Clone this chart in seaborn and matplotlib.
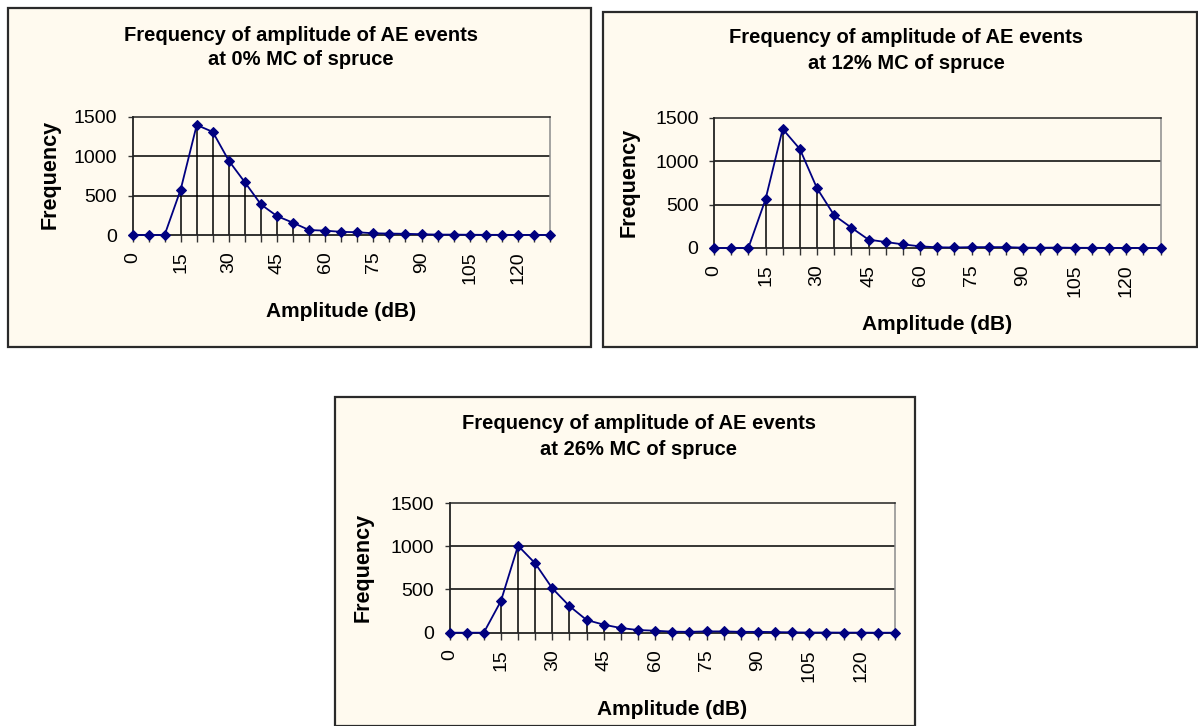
import matplotlib
matplotlib.use("Agg")
import matplotlib.pyplot as plt
from matplotlib.patches import Rectangle
import seaborn as sns

# ---- data ----
amplitude = [0, 5, 10, 15, 20, 25, 30, 35, 40, 45, 50, 55, 60, 65, 70,
             75, 80, 85, 90, 95, 100, 105, 110, 115, 120, 125, 130]
freq_0 = [0, 0, 0, 576, 1395, 1307, 941, 668, 387, 240, 155, 63, 55, 40, 35,
          22, 18, 15, 10, 5, 5, 3, 2, 2, 1, 1, 0]
freq_12 = [0, 0, 0, 560, 1370, 1139, 687, 376, 234, 96, 69, 42, 19, 8, 6,
           10, 10, 10, 4, 3, 5, 2, 2, 1, 1, 0, 0]
freq_26 = [0, 0, 0, 366, 1006, 802, 513, 308, 147, 93, 54, 31, 23, 12, 10,
           15, 15, 10, 10, 7, 4, 2, 2, 1, 1, 0, 0]
xtick_labels = ["0", "15", "30", "45", "60", "75", "90", "105", "120"]
ytick_values = [0, 500, 1000, 1500]
titles = [("Frequency of amplitude of AE events", "at 0% MC of spruce"),
          ("Frequency of amplitude of AE events", "at 12% MC of spruce"),
          ("Frequency of amplitude of AE events", "at 26% MC of spruce")]
xlabel = "Amplitude (dB)"
ylabel = "Frequency"

# ---- style ----
plt.rcParams["font.family"] = ["Liberation Sans", "DejaVu Sans"]
W, H = 1198, 726
CREAM = "#FFFAEF"
NAVY = "#000080"
TICK_FS = 14

fig = plt.figure(figsize=(W / 100, H / 100), dpi=100)
fig.patch.set_facecolor("white")


def fx(x):
    return x / W


def fy(y):
    return 1 - y / H


# panel layouts in pixel coords
panels = [
    dict(box=(8, 8, 591, 347), plot=(132.5, 116.7, 550, 235),
         title_x=301, title_y=(40.7, 65), ylab=(50, 174), xlab_y=317,
         data=freq_0),
    dict(box=(603, 12, 1197, 347), plot=(714, 117.7, 1160.5, 248),
         title_x=906, title_y=(43.3, 69.3), ylab=(629, 182.5), xlab_y=330,
         data=freq_12),
    dict(box=(335, 397, 915, 726), plot=(449.5, 503, 895, 632.7),
         title_x=639, title_y=(429.3, 455), ylab=(363.5, 567.5), xlab_y=715,
         data=freq_26),
]

labels_full = [str(a) if str(a) in xtick_labels else "" for a in amplitude]

for i, p in enumerate(panels):
    bl, bt, br, bb = p["box"]
    fig.add_artist(Rectangle((fx(bl), fy(bb)), fx(br - bl), (bb - bt) / H,
                             transform=fig.transFigure, facecolor=CREAM,
                             edgecolor="#2a2a2a", linewidth=1.6, zorder=0))
    l, t, r, b = p["plot"]
    ax = fig.add_axes([fx(l), fy(b), fx(r - l), (b - t) / H])
    ax.set_facecolor(CREAM)
    ax.patch.set_alpha(0)

    vals = p["data"]
    # drop lines
    ax.vlines(amplitude, 0, vals, color="black", linewidth=1.1, zorder=2,
              snap=True)
    sns.lineplot(x=amplitude, y=vals, ax=ax, color=NAVY, linewidth=1.3,
                 marker="D", markersize=5.4, markeredgecolor=NAVY,
                 markerfacecolor=NAVY, legend=False, zorder=4, clip_on=False)

    ax.set_xlim(0, 130)
    ax.set_ylim(0, 1500)
    ax.tick_params(axis="x", direction="out", length=5, width=1,
                   color="#333333", pad=7)
    ax.tick_params(axis="y", direction="out", length=3.6, width=1,
                   color="#333333", pad=7.5)
    ax.set_yticks(ytick_values)
    ax.set_yticklabels([str(v) for v in ytick_values], fontsize=TICK_FS)
    ax.set_xticks(amplitude)
    ax.set_xticklabels(labels_full, fontsize=TICK_FS, rotation=90,
                       ha="center", va="top", rotation_mode="default")
    for g in [500, 1000]:
        ax.axhline(g, color="black", linewidth=1.1, zorder=1)
    ax.spines["top"].set_color("#222222")
    ax.spines["top"].set_linewidth(1.1)
    ax.spines["right"].set_color("#8c8c8c")
    ax.spines["right"].set_linewidth(1.1)
    ax.spines["left"].set_color("#222222")
    ax.spines["left"].set_linewidth(1.3)
    ax.spines["bottom"].set_color("#222222")
    ax.spines["bottom"].set_linewidth(1.3)
    ax.set_xlabel("")
    ax.set_ylabel("")

    # titles
    t1, t2 = titles[i]
    fig.text(fx(p["title_x"]), fy(p["title_y"][0]), t1, ha="center",
             va="baseline", fontsize=14.5, fontweight="bold")
    fig.text(fx(p["title_x"]), fy(p["title_y"][1]), t2, ha="center",
             va="baseline", fontsize=14.5, fontweight="bold")
    # y label
    fig.text(fx(p["ylab"][0]), fy(p["ylab"][1]), ylabel, rotation=90,
             ha="center", va="center", fontsize=15.5, fontweight="bold")
    # x label
    fig.text(fx((l + r) / 2), fy(p["xlab_y"]), xlabel, ha="center",
             va="baseline", fontsize=15, fontweight="bold")

fig.savefig("out.png", dpi=100, facecolor="white")
